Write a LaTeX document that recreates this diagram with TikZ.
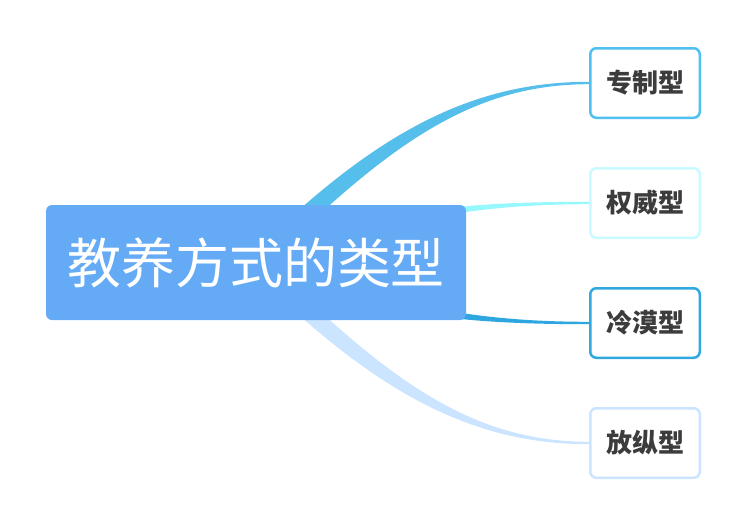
\documentclass[tikz,border=0pt]{standalone}
\usepackage{fontspec}
\newfontfamily\cjk{Noto Sans CJK SC}
\usetikzlibrary{calc,backgrounds}
\definecolor{rootfill}{HTML}{64AAF5}
\definecolor{cA}{HTML}{55BEEB}
\definecolor{bA}{HTML}{4FC0EF}
\definecolor{cB}{HTML}{96F7FC}
\definecolor{bB}{HTML}{C8FAFF}
\definecolor{cC}{HTML}{2EA6DF}
\definecolor{bC}{HTML}{31A8E0}
\definecolor{cD}{HTML}{CBE4FF}
\definecolor{bD}{HTML}{CBE4FF}
\definecolor{labtext}{HTML}{3C3C3C}
\begin{document}
\begin{tikzpicture}[x=1pt,y=-1pt,
  rootbox/.style={fill=rootfill, rounded corners=6pt, minimum width=420pt, minimum height=115pt, inner sep=0pt,
    text=white, font=\cjk\fontsize{54}{60}\selectfont},
  leafbox/.style={draw=#1, fill=white, line width=2.5pt, rounded corners=6pt, minimum width=109.5pt, minimum height=69.5pt,
    inner sep=0pt, text=labtext, font=\cjk\bfseries\fontsize{26}{30}\selectfont}]
\useasboundingbox (0,0) rectangle (745,525);
\node[rootbox] (root) at (256,262.5) {教养方式的类型};
\node[leafbox=bA] (n1) at (645,83) {专制型};
\node[leafbox=bB] (n2) at (645,203) {权威型};
\node[leafbox=bC] (n3) at (645,323) {冷漠型};
\node[leafbox=bD] (n4) at (645,443) {放纵型};
\begin{scope}[on background layer]
\fill[cA] ($(root.center)+(-6.3,-6.4)$) .. controls (373.7,133.6) and (470,81.8) .. ($(n1.west)+(0,-1.2)$)
  -- ($(n1.west)+(0,1.2)$) .. controls (470,84.2) and (386.3,146.4) .. ($(root.center)+(6.3,6.4)$) -- cycle;
\fill[cB] ($(root.center)+(-2.5,-6.5)$) .. controls (377.5,208.5) and (470,201.8) .. ($(n2.west)+(0,-1.2)$)
  -- ($(n2.west)+(0,1.2)$) .. controls (470,204.2) and (382.5,221.5) .. ($(root.center)+(2.5,6.5)$) -- cycle;
\fill[cC] ($(root.center)+(2.5,-6.5)$) .. controls (382.5,303.5) and (470,321.8) .. ($(n3.west)+(0,-1.2)$)
  -- ($(n3.west)+(0,1.2)$) .. controls (470,324.2) and (377.5,316.5) .. ($(root.center)+(-2.5,6.5)$) -- cycle;
\fill[cD] ($(root.center)+(6.3,-6.4)$) .. controls (386.3,378.6) and (470,441.8) .. ($(n4.west)+(0,-1.2)$)
  -- ($(n4.west)+(0,1.2)$) .. controls (470,444.2) and (373.7,391.4) .. ($(root.center)+(-6.3,6.4)$) -- cycle;
\end{scope}
\end{tikzpicture}
\end{document}
